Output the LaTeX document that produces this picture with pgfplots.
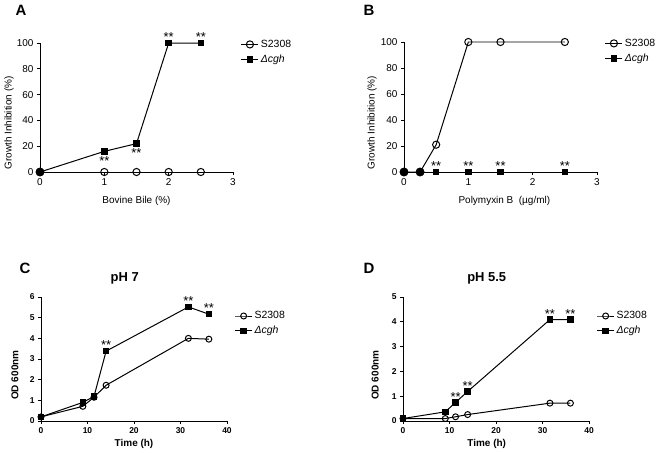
\documentclass[border=0pt]{standalone}
\usepackage{fontspec}
\setmainfont{Liberation Sans}
\usepackage{pgfplots}
\pgfplotsset{compat=1.18}

\pgfplotsset{
  gp/.style={
    scale only axis, axis lines=left, clip=false,
    axis line style={-, line width=0.9pt},
    tick style={black, line width=0.9pt}, tick align=outside, major tick length=3bp,
    /pgf/number format/assume math mode=true,
    tick label style={font=\fontsize{10}{11}\selectfont},
    label style={font=\fontsize{10}{11}\selectfont},
    legend style={draw=none, fill=none, font=\fontsize{10.5}{11}\selectfont,
      anchor=north west, row sep=2pt, inner sep=0pt},
    legend cell align=left,
  },
  gpbold/.style={gp,
    tick label style={font=\bfseries\fontsize{8.5}{10}\selectfont},
    label style={font=\bfseries\fontsize{10}{11}\selectfont},
    title style={font=\bfseries\fontsize{13}{14}\selectfont},
  },
  wt/.style={black, line width=1pt, mark=o, mark size=3.6pt, mark options={fill=white, line width=1pt}},
  mut/.style={black, line width=1pt, mark=square*, mark size=2.8pt},
  dot/.style={forget plot, only marks, mark=*, mark size=4.2pt, black},
  stars/.style={forget plot, draw=none, mark=none, nodes near coords={**},
    every node near coord/.append style={font=\fontsize{13}{13}\selectfont, inner sep=0pt, anchor=south, yshift=1pt}},
  starsbelow/.style={forget plot, draw=none, mark=none, nodes near coords={**},
    every node near coord/.append style={font=\fontsize{13}{13}\selectfont, inner sep=0pt, anchor=north, yshift=-5pt}},
}

\begin{document}
\begin{tikzpicture}
\path[use as bounding box] (0,0) rectangle (659bp,-453bp);

% A
\begin{axis}[gp, at={(40bp,-172bp)}, anchor=south west, width=193bp, height=129bp,
  xmin=0, xmax=3, ymin=0, ymax=100, xtick={0,1,2,3}, ytick={0,20,40,60,80,100},
  xlabel={Bovine Bile (\%)}, ylabel={Growth Inhibition (\%)},
  xlabel style={at={(axis description cs:0.5,-0.225)}, anchor=center},
  ylabel style={at={(axis description cs:-0.16,0.38)}, anchor=center},
  legend style={at={(axis description cs:1.04,1.04)}}]
\addplot[wt] coordinates {(0,0) (1,0) (1.5,0) (2,0) (2.5,0)};
\addlegendentry{S2308}
\addplot[mut] coordinates {(0,0) (1,16) (1.5,22) (2,100) (2.5,100)};
\addlegendentry{\textit{Δcgh}}
\addplot[dot] coordinates {(0,0)};
\addplot[stars] coordinates {(2,100) (2.5,100)};
\addplot[starsbelow] coordinates {(1,16) (1.5,22)};
\end{axis}
\node[font=\bfseries\fontsize{15}{15}\selectfont] at (21bp,-10bp) {A};

% B
\begin{axis}[gp, at={(404bp,-172bp)}, anchor=south west, width=193bp, height=130bp,
  xmin=0, xmax=3, ymin=0, ymax=100, xtick={0,1,2,3}, ytick={0,20,40,60,80,100},
  xlabel={Polymyxin B\ \ (µg/ml)}, ylabel={Growth Inhibition (\%)},
  xlabel style={at={(axis description cs:0.52,-0.225)}, anchor=center},
  ylabel style={at={(axis description cs:-0.166,0.38)}, anchor=center},
  legend style={at={(axis description cs:1.04,1.04)}}]
\addplot[wt] coordinates {(0,0) (0.25,0) (0.5,21) (1,100) (1.5,100) (2.5,100)};
\addlegendentry{S2308}
\addplot[mut] coordinates {(0,0) (0.25,0) (0.5,0) (1,0) (1.5,0) (2.5,0)};
\addlegendentry{\textit{Δcgh}}
\addplot[dot] coordinates {(0,0) (0.25,0)};
\addplot[stars] coordinates {(0.5,0) (1,0) (1.5,0) (2.5,0)};
\end{axis}
\node[font=\bfseries\fontsize{15}{15}\selectfont] at (369bp,-10bp) {B};

% C
\begin{axis}[gpbold, at={(41bp,-421bp)}, anchor=south west, width=186bp, height=124bp,
  xmin=0, xmax=40, ymin=0, ymax=6, xtick={0,10,20,30,40}, ytick={0,1,2,3,4,5,6},
  title={pH 7}, title style={at={(axis description cs:0.45,1.03)}, anchor=south},
  xlabel={Time (h)}, ylabel={OD 600nm},
  xlabel style={at={(axis description cs:0.5,-0.185)}, anchor=center},
  ylabel style={at={(axis description cs:-0.14,0.37)}, anchor=center},
  legend style={at={(axis description cs:1.04,0.9)}}]
\addplot[wt, mark size=3pt] coordinates {(0,0.2) (9,0.71) (11.4,1.15) (14,1.73) (31.7,4.0) (36.1,3.96)};
\addlegendentry{S2308}
\addplot[mut] coordinates {(0,0.2) (9,0.9) (11.4,1.19) (14,3.38) (31.7,5.52) (36.1,5.17)};
\addlegendentry{\textit{Δcgh}}
\addplot[stars] coordinates {(14,3.38) (31.7,5.52) (36.1,5.17)};
\end{axis}
\node[font=\bfseries\fontsize{15}{15}\selectfont] at (25bp,-268bp) {C};

% D
\begin{axis}[gpbold, at={(403bp,-421bp)}, anchor=south west, width=186bp, height=124bp,
  xmin=0, xmax=40, ymin=0, ymax=5, xtick={0,10,20,30,40}, ytick={0,1,2,3,4,5},
  title={pH 5.5}, title style={at={(axis description cs:0.45,1.03)}, anchor=south},
  xlabel={Time (h)}, ylabel={OD 600nm},
  xlabel style={at={(axis description cs:0.45,-0.185)}, anchor=center},
  ylabel style={at={(axis description cs:-0.15,0.37)}, anchor=center},
  legend style={at={(axis description cs:1.04,0.9)}}]
\addplot[wt, mark size=3pt] coordinates {(0,0.1) (9.1,0.1) (11.3,0.17) (13.9,0.26) (31.6,0.72) (36,0.72)};
\addlegendentry{S2308}
\addplot[mut] coordinates {(0,0.1) (9.1,0.37) (11.3,0.75) (13.9,1.19) (31.6,4.09) (36,4.09)};
\addlegendentry{\textit{Δcgh}}
\addplot[stars] coordinates {(11.3,0.75) (13.9,1.19) (31.6,4.09) (36,4.09)};
\end{axis}
\node[font=\bfseries\fontsize{15}{15}\selectfont] at (369bp,-268bp) {D};
\end{tikzpicture}
\end{document}
